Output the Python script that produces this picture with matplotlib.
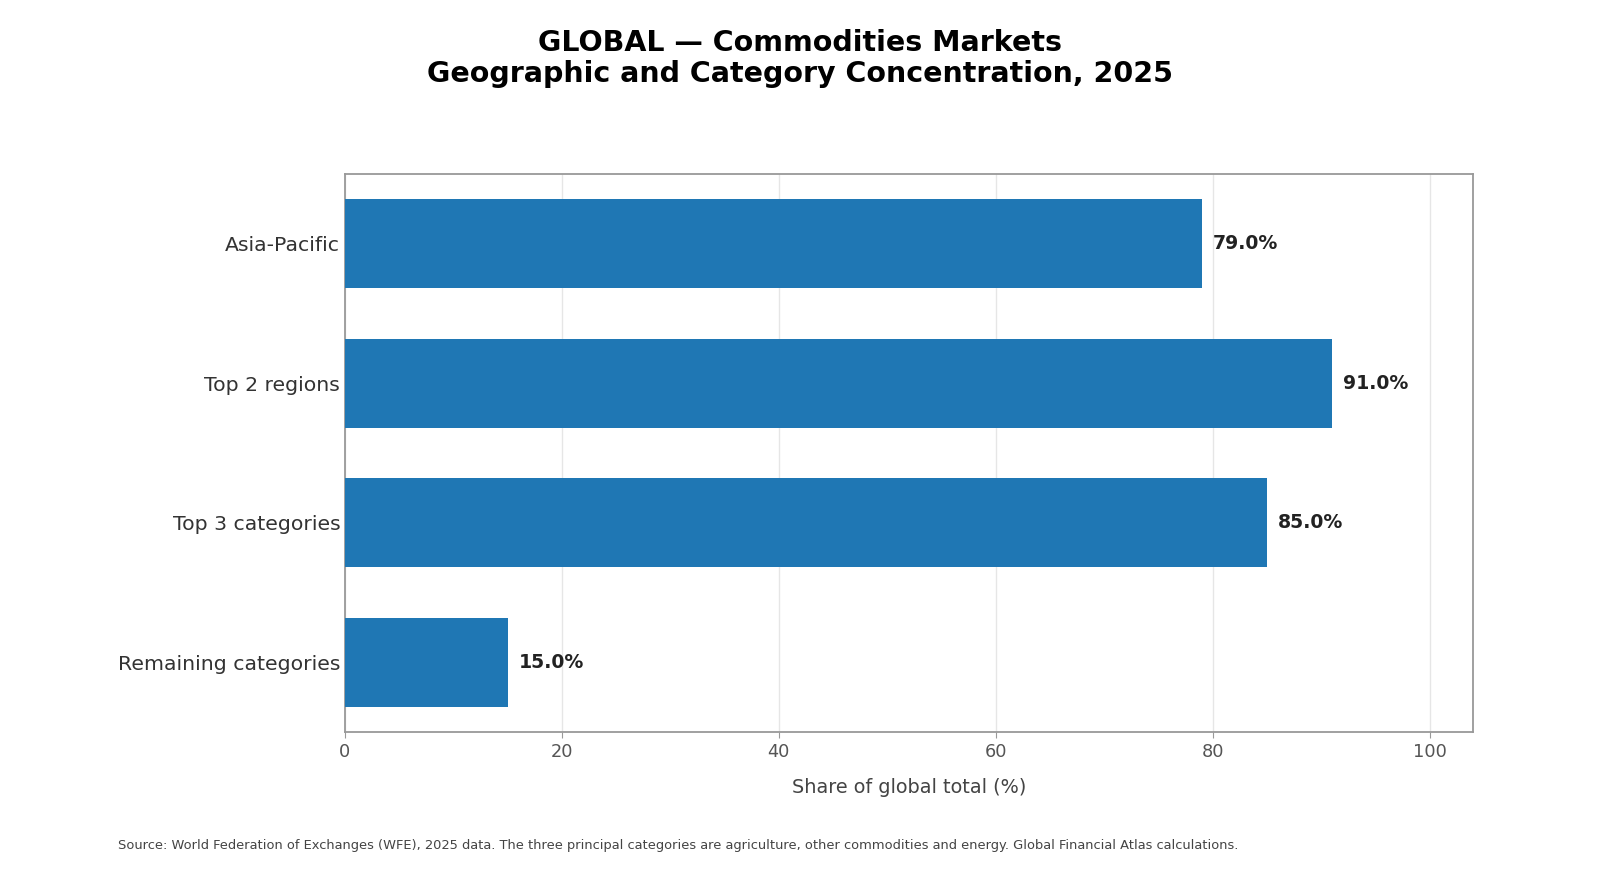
import matplotlib
matplotlib.use("Agg")
import matplotlib.pyplot as plt

categories = ["Asia-Pacific", "Top 2 regions", "Top 3 categories", "Remaining categories"]
values = [79.0, 91.0, 85.0, 15.0]
xticks = [0, 20, 40, 60, 80, 100]

title = "GLOBAL \u2014 Commodities Markets\nGeographic and Category Concentration, 2025"
xlabel = "Share of global total (%)"
source = ("Source: World Federation of Exchanges (WFE), 2025 data. The three principal categories are "
          "agriculture, other commodities and energy. Global Financial Atlas calculations.")

plt.rcParams['font.family'] = ['DejaVu Sans']

fig = plt.figure(figsize=(16, 8.9), dpi=100)
ax = fig.add_axes([345/1600, 1-732/890, (1473-345)/1600, (732-174)/890])

ypos = list(range(len(categories)))
ax.barh(ypos, values, height=0.635, color="#1f77b4", zorder=3)
ax.set_yticks(ypos)
ax.set_yticklabels(categories, fontsize=14.7, color="#333333")
ax.set_ylim(len(categories) - 0.5, -0.5)
ax.set_xlim(0, 104)
ax.set_xticks(xticks)
ax.set_xticklabels([str(t) for t in xticks], fontsize=12.8, color="#555555")
ax.tick_params(axis="y", length=0, pad=3.5)
ax.tick_params(axis="x", length=4, color="#999999", pad=4)
ax.grid(axis="x", color="#e6e6e6", linewidth=1, zorder=0)
for s in ax.spines.values():
    s.set_color("#999999")
    s.set_linewidth(1.3)
ax.set_xlabel(xlabel, fontsize=13.9, color="#444444", labelpad=12)

for y, v in zip(ypos, values):
    ax.text(v + 1.0, y, f"{v:.1f}%", va="center", ha="left", fontsize=13.6,
            fontweight="bold", color="#222222", zorder=4)

fig.suptitle(title, fontsize=20.5, fontweight="bold", y=0.967, va="top", linespacing=1.12)
fig.text(118/1600, 1-846/890, source, fontsize=9.4, color="#444444", va="center", ha="left")

fig.savefig("out.png", dpi=100)
